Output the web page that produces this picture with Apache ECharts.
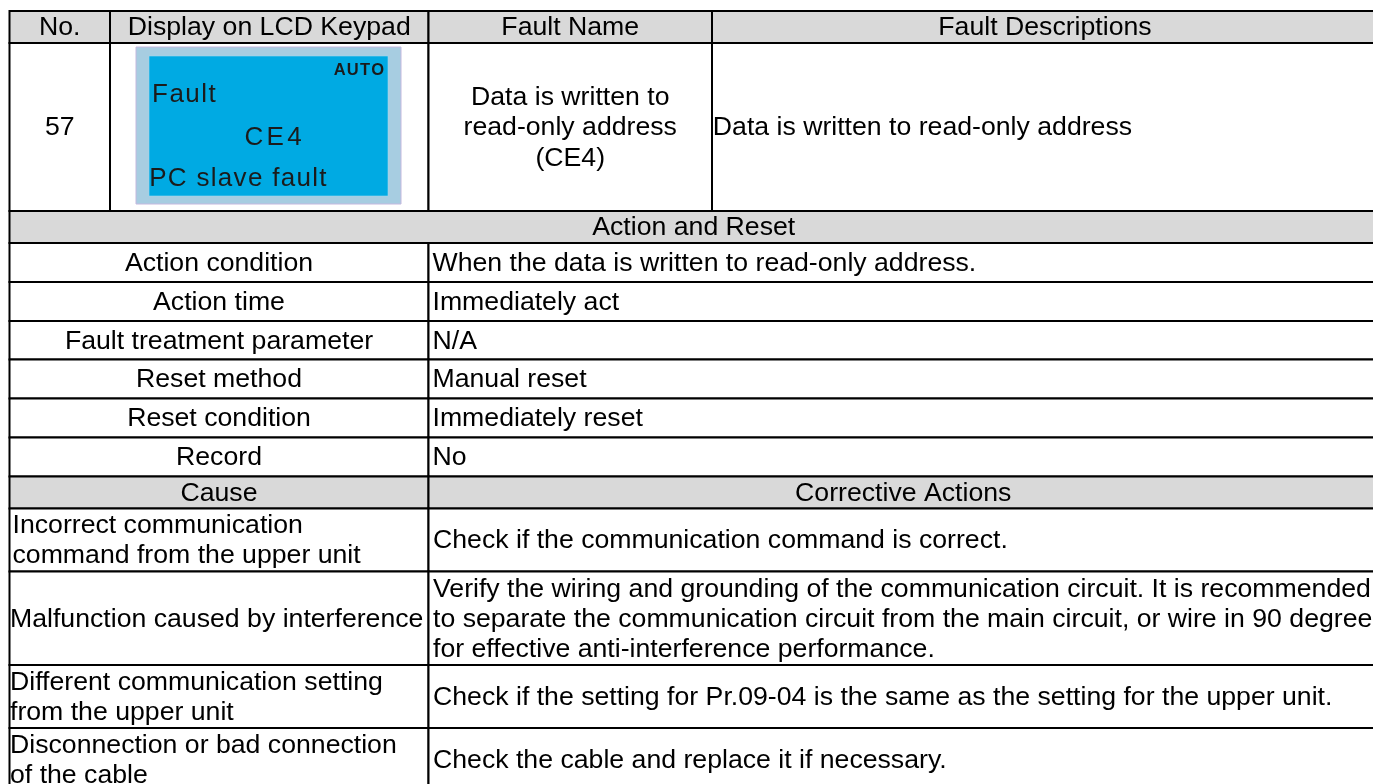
<!DOCTYPE html>
<html>
<head>
<meta charset="utf-8">
<script src="https://cdn.jsdelivr.net/npm/echarts@6/dist/echarts.min.js"></script>
<style>
html,body{margin:0;padding:0;background:#fff;}
#main{width:1373px;height:784px;}
</style>
</head>
<body>
<div id="main"></div>
<script>
// ---------- DATA (texts of the table) ----------
const headerTexts = ['No.', 'Display on LCD Keypad', 'Fault Name', 'Fault Descriptions'];
const faultNo = '57';
const lcdAuto = 'AUTO';
const lcdLines = ['Fault', 'CE4', 'PC slave fault'];
const faultName = ['Data is written to', 'read-only address', '(CE4)'];
const faultDesc = 'Data is written to read-only address';
const sectionTitle = 'Action and Reset';
const actionLabels = ['Action condition', 'Action time', 'Fault treatment parameter', 'Reset method', 'Reset condition', 'Record'];
const actionValues = ['When the data is written to read-only address.', 'Immediately act', 'N/A', 'Manual reset', 'Immediately reset', 'No'];
const causeHeaders = ['Cause', 'Corrective Actions'];
const causes = [
  ['Incorrect communication', 'command from the upper unit'],
  ['Malfunction caused by interference'],
  ['Different communication setting', 'from the upper unit'],
  ['Disconnection or bad connection', 'of the cable']
];
const corrective = [
  ['Check if the communication command is correct.'],
  ['Verify the wiring and grounding of the communication circuit. It is recommended', 'to separate the communication circuit from the main circuit, or wire in 90 degree', 'for effective anti-interference performance.'],
  ['Check if the setting for Pr.09-04 is the same as the setting for the upper unit.'],
  ['Check the cable and replace it if necessary.']
];

// ---------- LAYOUT (positions / styles) ----------
const W = 1373, H = 784;
const COL = { left: 9.5, no: 110, lcd: 428.5, name: 712, right: 1378 };
const ROW = [11, 43, 211, 243, 282, 321, 359.5, 398.5, 437.5, 476.5, 508.5, 571.5, 665, 728, 791];
const FONT_FAMILY = '"Liberation Sans", Arial, Helvetica, sans-serif';
const FONT = '26.67px ' + FONT_FAMILY;
const GRAY = '#d9d9d9';
const TEXT_DY = 1;
const causePad = [3, 0.5, 0.5, 0.5];

const LCD = {
  outer: [136, 47, 401, 204], inner: [149, 56, 388, 196],
  outerFill: '#a7cde1', outerStroke: '#c4b8de', innerFill: '#00aae3', textFill: '#1b1b1b',
  auto: { right: 384, base: 76, font: 'bold 16.5px ' + FONT_FAMILY, sp: 1.2 },
  lines: [
    { x: 152, base: 104.3, font: '26px ' + FONT_FAMILY, sp: 1.5 },
    { x: 244.4, base: 146.7, font: '26px ' + FONT_FAMILY, sp: 3.4 },
    { x: 149.2, base: 188.3, font: '26px ' + FONT_FAMILY, sp: 1.3 }
  ]
};

// ---------- build cells ----------
const cells = [];
function addCell(x0, x1, r, text, opt) {
  cells.push(Object.assign({ x0: x0, x1: x1, y0: ROW[r], y1: ROW[r + 1], text: text, align: 'center', pad: 0, fill: '#fff', lh: 30 }, opt || {}));
}
const hdrCols = [COL.left, COL.no, COL.lcd, COL.name, COL.right];
headerTexts.forEach(function (t, i) { addCell(hdrCols[i], hdrCols[i + 1], 0, [t], { fill: GRAY }); });
addCell(COL.left, COL.no, 1, [faultNo]);
addCell(COL.no, COL.lcd, 1, [], { lcd: true });
addCell(COL.lcd, COL.name, 1, faultName, { lh: 30.6 });
addCell(COL.name, COL.right, 1, [faultDesc], { align: 'left', pad: 0.8 });
addCell(COL.left, COL.right, 2, [sectionTitle], { fill: GRAY });
actionLabels.forEach(function (t, i) {
  addCell(COL.left, COL.lcd, 3 + i, [t]);
  addCell(COL.lcd, COL.right, 3 + i, [actionValues[i]], { align: 'left', pad: 4 });
});
addCell(COL.left, COL.lcd, 9, [causeHeaders[0]], { fill: GRAY });
addCell(COL.lcd, COL.right, 9, [causeHeaders[1]], { fill: GRAY });
causes.forEach(function (t, i) {
  addCell(COL.left, COL.lcd, 10 + i, t, { align: 'left', pad: causePad[i] });
  addCell(COL.lcd, COL.right, 10 + i, corrective[i], { align: 'left', pad: 4.5 });
});

// ---------- helpers ----------
const mctx = document.createElement('canvas').getContext('2d');
function measure(t, font) { mctx.font = font; return mctx.measureText(t).width; }
function spacedChars(str, font, sp, x, y, fill) {
  const out = [];
  let cx = x;
  for (const ch of str) {
    out.push({ type: 'text', style: { text: ch, x: cx, y: y, font: font, fill: fill, align: 'left', verticalAlign: 'middle' } });
    cx += measure(ch, font) + sp;
  }
  return out;
}
function spacedWidth(str, font, sp) {
  let w = 0;
  for (const ch of str) w += measure(ch, font);
  return w + sp * (Array.from(str).length - 1);
}
function fontSize(font) { return parseFloat(font.match(/([\d.]+)px/)[1]); }

function renderItem(params, api) {
  const c = cells[api.value(0)];
  const p0 = api.coord([c.x0, c.y0]);
  const p1 = api.coord([c.x1, c.y1]);
  const children = [{
    type: 'rect',
    shape: { x: p0[0], y: p0[1], width: p1[0] - p0[0], height: p1[1] - p0[1] },
    style: { fill: c.fill, stroke: '#000', lineWidth: 2 }
  }];
  if (c.lcd) {
    const o0 = api.coord([LCD.outer[0], LCD.outer[1]]), o1 = api.coord([LCD.outer[2], LCD.outer[3]]);
    const i0 = api.coord([LCD.inner[0], LCD.inner[1]]), i1 = api.coord([LCD.inner[2], LCD.inner[3]]);
    children.push({ type: 'rect', shape: { x: o0[0], y: o0[1], width: o1[0] - o0[0], height: o1[1] - o0[1] }, style: { fill: LCD.outerFill, stroke: LCD.outerStroke, lineWidth: 1 } });
    children.push({ type: 'rect', shape: { x: i0[0], y: i0[1], width: i1[0] - i0[0], height: i1[1] - i0[1] }, style: { fill: LCD.innerFill, stroke: '#9fd6ee', lineWidth: 0.6 } });
    const a = LCD.auto;
    const aw = spacedWidth(lcdAuto, a.font, a.sp);
    const ap = api.coord([a.right, a.base]);
    spacedChars(lcdAuto, a.font, a.sp, ap[0] - aw, ap[1] - 0.3465 * fontSize(a.font), LCD.textFill).forEach(function (e) { children.push(e); });
    lcdLines.forEach(function (t, i) {
      const L = LCD.lines[i];
      const lp = api.coord([L.x, L.base]);
      spacedChars(t, L.font, L.sp, lp[0], lp[1] - 0.3465 * fontSize(L.font), LCD.textFill).forEach(function (e) { children.push(e); });
    });
  } else if (c.text.length) {
    const tx = c.align === 'center' ? (p0[0] + p1[0]) / 2 : p0[0] + c.pad;
    children.push({
      type: 'text',
      style: {
        text: c.text.join('\n'), x: tx, y: (p0[1] + p1[1]) / 2 + TEXT_DY,
        font: FONT, fill: '#000', align: c.align, verticalAlign: 'middle', lineHeight: c.lh
      }
    });
  }
  return { type: 'group', children: children };
}

const chart = echarts.init(document.getElementById('main'), null, { renderer: 'canvas', width: W, height: H });
chart.setOption({
  animation: false,
  backgroundColor: '#fff',
  grid: { left: 0, right: 0, top: 0, bottom: 0 },
  xAxis: { type: 'value', min: 0, max: W, show: false },
  yAxis: { type: 'value', min: 0, max: H, inverse: true, show: false },
  series: [{
    type: 'custom',
    clip: false,
    renderItem: renderItem,
    data: cells.map(function (c, i) { return [i]; })
  }]
});
</script>
</body>
</html>
